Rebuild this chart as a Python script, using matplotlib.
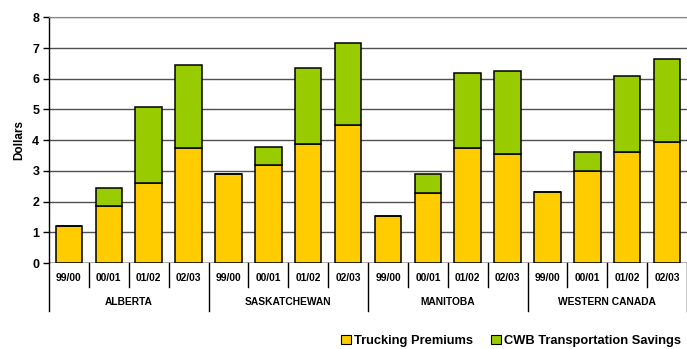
import matplotlib
matplotlib.use("Agg")
import matplotlib.pyplot as plt
import matplotlib.transforms as mtransforms
from matplotlib.patches import Patch

regions = ["ALBERTA", "SASKATCHEWAN", "MANITOBA", "WESTERN CANADA"]
years = ["99/00", "00/01", "01/02", "02/03"]

trucking = [1.21, 1.85, 2.61, 3.76,
            2.91, 3.20, 3.88, 4.49,
            1.54, 2.29, 3.75, 3.55,
            2.32, 2.99, 3.62, 3.95]
totals = [1.21, 2.45, 5.09, 6.46,
          2.91, 3.78, 6.36, 7.17,
          1.54, 2.90, 6.20, 6.25,
          2.32, 3.62, 6.09, 6.64]
savings = [t - b for t, b in zip(totals, trucking)]

yellow = "#FFCC00"
green = "#99CC00"

plt.rcParams["font.family"] = ["Liberation Sans", "DejaVu Sans"]
plt.rcParams["font.weight"] = "bold"

fig = plt.figure(figsize=(6.87, 3.49), dpi=100)
ax = fig.add_axes([49 / 687, 1 - 263 / 349, 1 - 49 / 687, (263 - 17.3) / 349])

x = list(range(len(trucking)))
ax.bar(x, trucking, width=0.667, color=yellow, edgecolor="black", linewidth=1.1, zorder=3)
ax.bar(x, savings, bottom=trucking, width=0.667, color=green, edgecolor="black",
       linewidth=1.1, zorder=3)

ax.set_xlim(-0.5, len(x) - 0.5)
ax.set_ylim(0, 8)
ax.set_yticks(range(0, 9))
ax.tick_params(axis="y", labelsize=9, length=4, width=1, pad=3)
for lab in ax.get_yticklabels():
    lab.set_fontweight("bold")
ax.set_ylabel("Dollars", fontsize=8.5, fontweight="bold", labelpad=5)

ax.yaxis.grid(True, color="#505050", linewidth=1.0, zorder=0)
ax.set_axisbelow(True)
for side in ["right", "bottom"]:
    ax.spines[side].set_visible(False)
ax.spines["top"].set_color("#888888")
ax.spines["left"].set_linewidth(1.0)
ax.axhline(0, color="black", linewidth=1.0, zorder=4)

# Two-level category axis drawn below the plot
ax.set_xticks([])
trans = mtransforms.blended_transform_factory(ax.transData, ax.transAxes)
n_years = len(years)
for i in range(len(x) + 1):
    xpos = i - 0.5
    low = -0.195 if i % n_years == 0 else -0.0965
    ax.plot([xpos, xpos], [0, low], transform=trans, color="black",
            linewidth=1.0, clip_on=False)
for i in x:
    ax.text(i, -0.06, years[i % n_years], transform=trans, ha="center", va="center",
            fontsize=7.4, fontweight="bold")
for g, name in enumerate(regions):
    center = g * n_years + (n_years - 1) / 2
    ax.text(center, -0.16, name, transform=trans, ha="center", va="center",
            fontsize=7.4, fontweight="bold")

handles = [Patch(facecolor=yellow, edgecolor="black", linewidth=0.8),
           Patch(facecolor=green, edgecolor="black", linewidth=0.8)]
fig.legend(handles, ["Trucking Premiums", "CWB Transportation Savings"],
           loc="lower right", bbox_to_anchor=(1.005, -0.02), ncol=2, frameon=False,
           prop={"size": 9.3, "weight": "bold"}, handlelength=0.7, handleheight=0.7,
           handletextpad=0.3, columnspacing=1.4, borderaxespad=0.3)

fig.savefig("out.png", dpi=100)
